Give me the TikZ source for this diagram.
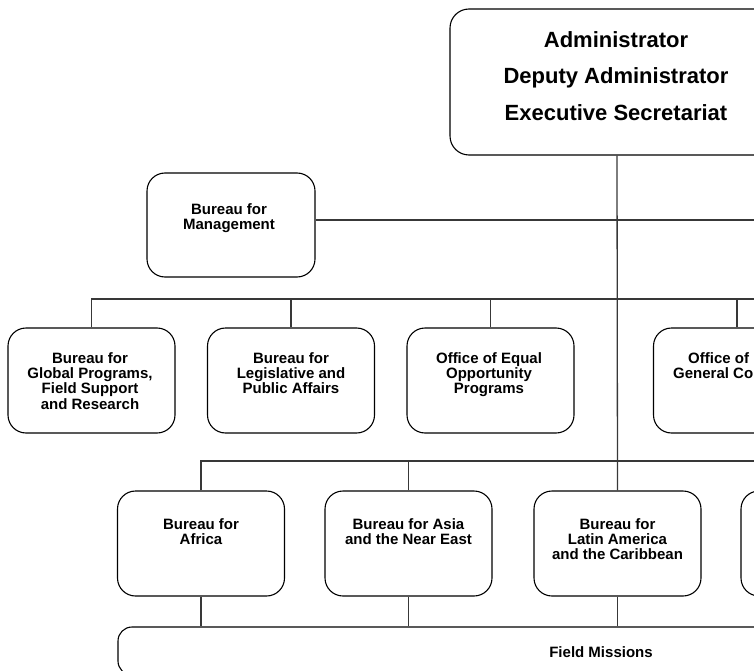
\documentclass[tikz,border=0pt]{standalone}
\usepackage{fontspec}
\setmainfont{Liberation Sans}
\begin{document}
\begin{tikzpicture}[x=1pt,y=-1pt,
  box/.style={draw=black,line width=1.1pt,rounded corners=18pt,inner sep=0pt,minimum width=167pt,minimum height=105pt},
  txt/.style={inner sep=0pt,align=center,font=\fontsize{15}{15.3}\selectfont\bfseries,anchor=north},
  big/.style={inner sep=0pt,align=center,font=\fontsize{22}{36.5}\selectfont\bfseries,anchor=north},
  conn/.style={draw=black!78,line width=1.3pt}]
\useasboundingbox (0,0) rectangle (754,671);
\clip (0,0) rectangle (754,671);
% boxes
\node[box,rounded corners=19pt,minimum width=334pt,minimum height=146pt] (adm) at (617,82) {};
\node[box,minimum width=168pt,minimum height=104pt] (mgmt) at (231,225) {};
\node[box] (gp) at (91.5,380.5) {};
\node[box] (lpa) at (291,380.5) {};
\node[box] (eop) at (490.5,380.5) {};
\node[box] (gc) at (737,380.5) {};
\node[box] (afr) at (201,543.5) {};
\node[box] (ane) at (408.5,543.5) {};
\node[box] (lac) at (617.5,543.5) {};
\node[box] (r3d) at (824.5,543.5) {};
\node[box,rounded corners=14pt,minimum width=964pt,minimum height=48pt] (fm) at (600,651) {};
% texts
\node[big] (tadm) at (616,31.2) {Administrator\\Deputy Administrator\\Executive Secretariat};
\node[txt] (tmgmt) at (229,203.2) {Bureau for\\Management};
\node[txt] (tgp) at (90,352.2) {Bureau for\\Global Programs,\\Field Support\\and Research};
\node[txt] (tlpa) at (291,352.2) {Bureau for\\Legislative and\\Public Affairs};
\node[txt] (teop) at (489,352.2) {Office of Equal\\Opportunity\\Programs};
\node[inner sep=0pt,anchor=base west,font=\fontsize{15}{15.3}\selectfont\bfseries] (tgc1) at (688,363) {Office of};
\node[inner sep=0pt,anchor=base west,font=\fontsize{15}{15.3}\selectfont\bfseries] (tgc2) at (673,378.3) {General Co};
\node[txt] (tafr) at (201,518.2) {Bureau for\\Africa};
\node[txt] (tane) at (408.5,518.2) {Bureau for Asia\\and the Near East};
\node[txt] (tlac) at (617.5,518.2) {Bureau for\\Latin America\\and the Caribbean};
\node[inner sep=0pt,anchor=base,font=\fontsize{15}{15.3}\selectfont\bfseries] (tfm) at (601,657) {Field Missions};
% bus end points at the right edge
\coordinate (mge) at (760,220);
\coordinate (b2e) at (760,299);
\coordinate (b3e) at (760,461);
% connectors
\draw[conn] (adm.south) -- (lac.north);
\draw[conn] (mgmt.east |- mge) -- (mge);
\draw[conn] (gp.north) |- (b2e);
\draw[conn] (lpa.north) -- (lpa.north |- b2e);
\draw[conn] (eop.north) -- (eop.north |- b2e);
\draw[conn] (gc.north) -- (gc.north |- b2e);
\draw[conn] (afr.north) |- (b3e);
\draw[conn] (ane.north) -- (ane.north |- b3e);
\draw[conn] (afr.south) -- (afr.south |- fm.north);
\draw[conn] (ane.south) -- (ane.south |- fm.north);
\draw[conn] (lac.south) -- (lac.south |- fm.north);
\end{tikzpicture}
\end{document}
